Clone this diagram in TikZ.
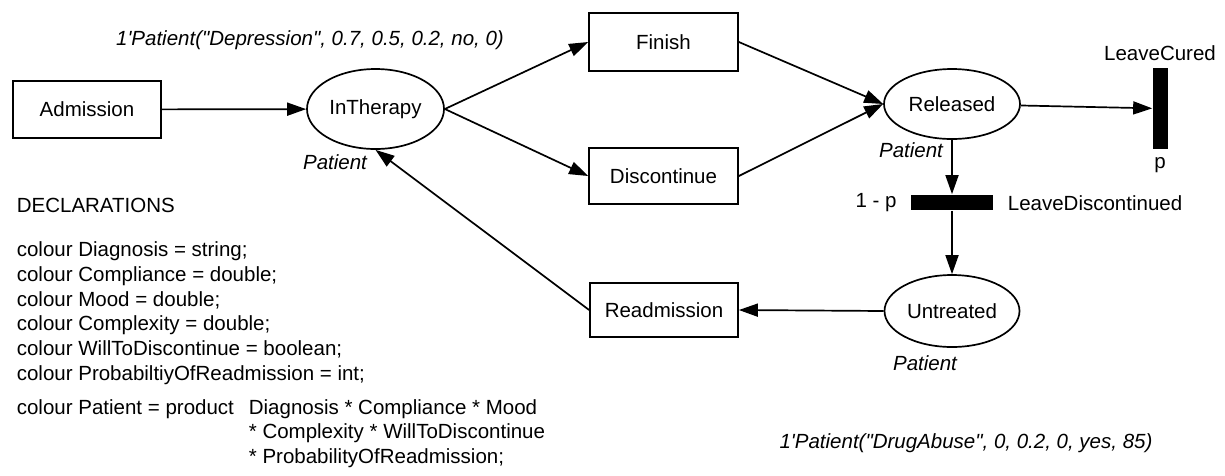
\documentclass[tikz,border=0pt]{standalone}
\usepackage{fontspec}
\setmainfont{Liberation Sans}[Ligatures=TeXOff]
\usetikzlibrary{arrows.meta,shapes.geometric}

\tikzset{
	place/.style={draw,ellipse,inner sep=0pt},
	trans/.style={draw,rectangle,inner sep=0pt,minimum width=148pt,minimum height=57pt},
	bar/.style={fill=black,inner sep=0pt},
	decl/.style={anchor=base west,inner sep=0pt},
	inscr/.style={inner sep=0pt,font=\fontsize{20.5}{24.7}\selectfont\itshape},
}

\begin{document}
\begin{tikzpicture}[x=1pt,y=-1pt,line width=1.7pt,>={Triangle[length=19pt,width=13pt]},
	every node/.style={font=\fontsize{20.5}{24.7}\selectfont}]
	\useasboundingbox (0,0) rectangle (1225,475);

	%Places
	\node[place,minimum width=137pt,minimum height=80pt] (InTherapy) at (375.5,109) {InTherapy};
	\node[place,minimum width=136pt,minimum height=70pt] (Released) at (952,104) {Released};
	\node[place,minimum width=135pt,minimum height=72pt] (Untreated) at (952,311) {Untreated};

	%Transitions
	\node[trans] (Admission) at (87,109.5) {Admission};
	\node[trans,minimum width=149pt,minimum height=58pt] (Finish) at (663.5,42) {Finish};
	\node[trans,minimum width=149pt,minimum height=56pt] (Discontinue) at (663.5,176) {Discontinue};
	\node[trans,minimum height=54pt] (Readmission) at (664,310) {Readmission};
	\node[bar,minimum width=15pt,minimum height=81pt] (LeaveCured) at (1160.5,108.5) {};
	\node[bar,minimum width=82pt,minimum height=15pt] (LeaveDiscontinued) at (952,202.5) {};

	%Labels
	\node[inner sep=0pt] (lblCured) at (1160,53) {LeaveCured};
	\node[inner sep=0pt] (lblP) at (1160,165) {p};
	\node[inner sep=0pt] (lblOneMinusP) at (876,203) {1 - p};
	\node[inner sep=0pt,anchor=west] (lblDiscontinued) at (1007,203) {LeaveDiscontinued};

	%Colour sets and initial markings
	\node[inscr] (initTherapy) at (310,40) {1'Patient("Depression", 0.7, 0.5, 0.2, no, 0)};
	\node[inscr] (typeTherapy) at (335,162) {Patient};
	\node[inscr] (typeReleased) at (911,150) {Patient};
	\node[inscr] (typeUntreated) at (925,363) {Patient};
	\node[inscr] (initUntreated) at (966,443) {1'Patient("DrugAbuse", 0, 0.2, 0, yes, 85)};

	%Arcs
	\draw[->] (Admission) -- (InTherapy);
	\draw[->] (InTherapy.east) -- (Finish.west);
	\draw[->] (InTherapy.east) -- (Discontinue.west);
	\draw[->] (Finish.east) -- (Released.west);
	\draw[->] (Discontinue.east) -- (Released.west);
	\draw[->] (Released) -- (LeaveCured);
	\draw[->] (Released.south) -- (LeaveDiscontinued.north);
	\draw[->] (LeaveDiscontinued.south) -- (Untreated.north);
	\draw[->] (Untreated.west) -- (Readmission.east);
	\draw[->] (Readmission.west) -- (InTherapy.south);

	%Declarations
	\node[decl] (declHead) at (16,212.7) {DECLARATIONS};
	\node[decl] (declA) at (16,256) {colour Diagnosis = string;};
	\node[decl] (declB) at (16,281) {colour Compliance = double;};
	\node[decl] (declC) at (16,306) {colour Mood = double;};
	\node[decl] (declD) at (16,330) {colour Complexity = double;};
	\node[decl] (declE) at (16,355) {colour WillToDiscontinue = boolean;};
	\node[decl] (declF) at (16,380) {colour ProbabiltiyOfReadmission = int;};
	\node[decl] (declG) at (16,414) {colour Patient = product};
	\node[decl] (declH) at (248,414) {Diagnosis * Compliance * Mood};
	\node[decl] (declI) at (248,438) {* Complexity * WillToDiscontinue};
	\node[decl] (declJ) at (248,463) {* ProbabilityOfReadmission;};

\end{tikzpicture}
\end{document}
